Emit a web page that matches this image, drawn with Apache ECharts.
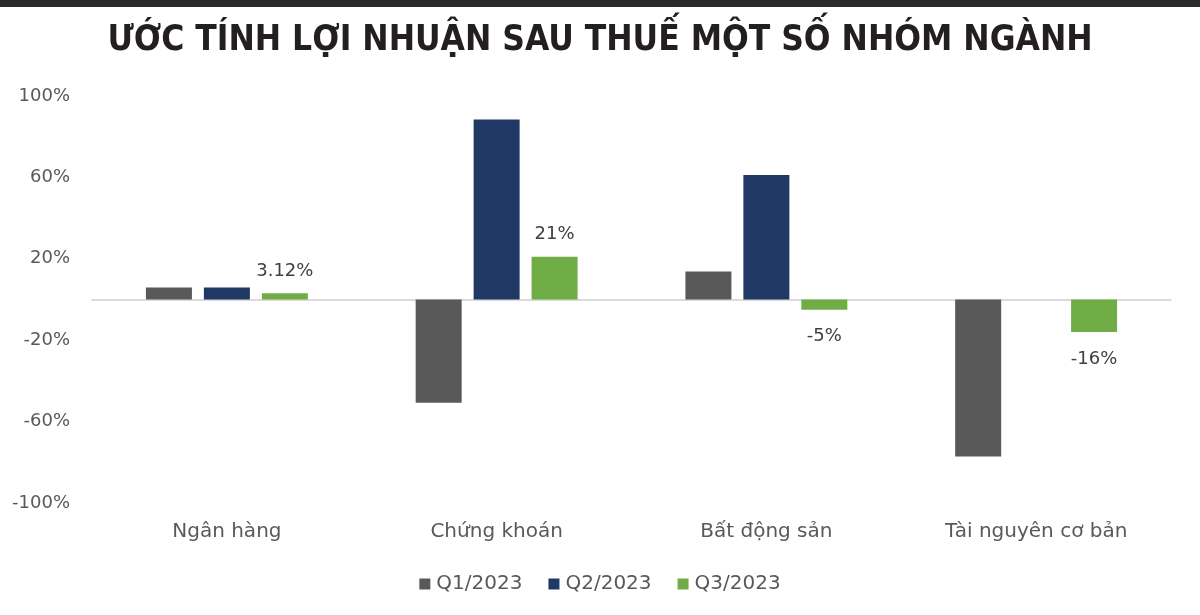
<!DOCTYPE html>
<html>
<head>
<meta charset="utf-8">
<script src="https://cdn.jsdelivr.net/npm/echarts@6/dist/echarts.min.js"></script>
<style>
html,body{margin:0;padding:0;background:#fff;}
#bar{position:absolute;left:0;top:0;width:1200px;height:7px;background:#2b2b2b;z-index:2;}
#chart{width:1200px;height:615px;}
</style>
</head>
<body>
<div id="bar"></div>
<div id="chart"></div>
<script>
const title = "ƯỚC TÍNH LỢI NHUẬN SAU THUẾ MỘT SỐ NHÓM NGÀNH";
const categories = ["Ngân hàng", "Chứng khoán", "Bất động sản", "Tài nguyên cơ bản"];
const seriesNames = ["Q1/2023", "Q2/2023", "Q3/2023"];
const q1 = [5.9, -50.7, 13.7, -77.2];
const q2 = [5.9, 88.5, 61.2, null];
const q3 = [3.12, 21, -5, -16];
const q3Labels = ["3.12%", "21%", "-5%", "-16%"];
const colors = ["#595959", "#1f3864", "#70ad47"];
const FONT = "'DejaVu Sans', sans-serif";

const chart = echarts.init(document.getElementById('chart'));
chart.setOption({
  animation: false,
  title: {
    text: title,
    left: 'center',
    top: 18,
    textStyle: {fontFamily: "'DejaVu Sans Condensed', 'DejaVu Sans', sans-serif", fontWeight: 'bold', fontSize: 35, color: '#231f20'}
  },
  legend: {
    data: seriesNames,
    bottom: 16,
    left: 'center',
    itemWidth: 11,
    itemHeight: 11,
    itemGap: 26,
    icon: 'rect',
    textStyle: {fontFamily: FONT, fontSize: 20, color: '#595959', padding: [0, 0, 0, 1]}
  },
  grid: {left: 92, right: 29, top: 96, bottom: 112, containLabel: false},
  xAxis: {
    type: 'category',
    data: categories,
    axisLine: {show: true, onZero: true, lineStyle: {color: '#d0d0d0', width: 1.5}},
    axisTick: {show: false},
    axisLabel: {show: false}
  },
  yAxis: {
    type: 'value',
    min: -100,
    max: 100,
    interval: 40,
    splitLine: {show: false},
    axisLine: {show: false},
    axisTick: {show: false},
    axisLabel: {formatter: '{value}%', fontFamily: FONT, fontSize: 18, color: '#595959', margin: 22}
  },
  series: [
    {name: seriesNames[0], type: 'bar', data: q1, barWidth: 46, barGap: '26%', itemStyle: {color: colors[0]}},
    {name: seriesNames[1], type: 'bar', data: q2, barWidth: 46, barGap: '26%', itemStyle: {color: colors[1]}},
    {name: seriesNames[2], type: 'bar', data: q3.map((v, i) => ({
        value: v,
        label: {show: true, position: v >= 0 ? 'top' : 'bottom', distance: v >= 0 ? 13 : 18, formatter: q3Labels[i],
                fontFamily: FONT, fontSize: 18, color: '#404040'}
      })), barWidth: 46, barGap: '26%', itemStyle: {color: colors[2]}}
  ]
});

const catY = 532;
chart.setOption({
  graphic: categories.map((c, i) => {
    const px = chart.convertToPixel({xAxisIndex: 0}, c);
    return {type: 'text', x: px, y: catY,
      style: {text: c, fontFamily: FONT, fontSize: 20, fill: '#595959', align: 'center', verticalAlign: 'middle'}};
  })
});
</script>
</body>
</html>
